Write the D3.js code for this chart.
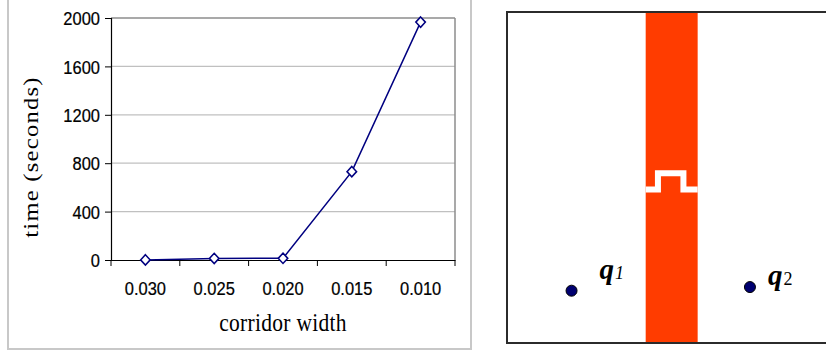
<!DOCTYPE html>
<html>
<head>
<meta charset="utf-8">
<script src="https://cdn.jsdelivr.net/npm/d3@7"></script>
<style>
  html, body { margin: 0; padding: 0; background: #fff; }
  svg { display: block; }
</style>
</head>
<body>
<svg id="fig" width="826" height="351"></svg>
<script>
// Run time against corridor width
const categories = ["0.030", "0.025", "0.020", "0.015", "0.010"];
const timeSeconds = [1, 13, 14, 730, 1966];
const yTicks = [0, 400, 800, 1200, 1600, 2000];

// Workspace scene (unit square): corridor and the two query points
const corridorX = [0.419, 0.576];
const notchPath = [[0.419, 0.464], [0.456, 0.464], [0.456, 0.513], [0.533, 0.513], [0.533, 0.464], [0.576, 0.464]];
const queryPoints = [
  { name: "q", sub: "1", x: 0.195, y: 0.158 },
  { name: "q", sub: "2", x: 0.734, y: 0.169 }
];

const svg = d3.select("#fig");
const SANS = "'Liberation Sans', Arial, sans-serif";
const SERIF = "'Liberation Serif', 'Times New Roman', serif";
const stretch = 1.12; // glyphs in the chart are slightly tall

// ---------- left panel: line chart ----------
const frame = { x0: 8, y0: -4, x1: 471, y1: 349 };
svg.append("rect")
  .attr("x", frame.x0).attr("y", frame.y0)
  .attr("width", frame.x1 - frame.x0).attr("height", frame.y1 - frame.y0)
  .attr("fill", "#fff").attr("stroke", "#c8c8c8").attr("stroke-width", 2);

const plot = { left: 111, right: 455, top: 18, bottom: 260 };

const x = d3.scaleBand().domain(categories).range([plot.left, plot.right]);
const y = d3.scaleLinear().domain([0, 2000]).range([plot.bottom, plot.top]);

const g = svg.append("g");

// horizontal gridlines
g.append("g").selectAll("line")
  .data(yTicks.filter(d => d > 0))
  .join("line")
  .attr("x1", plot.left).attr("x2", plot.right)
  .attr("y1", d => y(d)).attr("y2", d => y(d))
  .attr("stroke", d => d === 2000 ? "#8c8c8c" : "#c0c0c0")
  .attr("stroke-width", d => d === 2000 ? 1.5 : 1.2);

// right plot edge
g.append("line")
  .attr("x1", plot.right).attr("x2", plot.right)
  .attr("y1", plot.top).attr("y2", plot.bottom)
  .attr("stroke", "#8c8c8c").attr("stroke-width", 1.5);

// y axis
const yAxis = g.append("g")
  .attr("transform", `translate(${plot.left},0)`)
  .call(d3.axisLeft(y).tickValues(yTicks).tickSize(6).tickPadding(5).tickFormat(d3.format("d")));
yAxis.select(".domain").attr("stroke", "#000").attr("stroke-width", 1.2);
yAxis.selectAll(".tick line").attr("stroke", "#000");
yAxis.selectAll("text")
  .attr("font-family", SANS).attr("font-size", 16.5).attr("fill", "#000")
  .attr("stroke", "#000").attr("stroke-width", 0.2)
  .attr("dy", "0.36em")
  .attr("transform", `scale(1,${stretch})`);

// x axis with ticks on category boundaries
const xAxis = g.append("g")
  .attr("transform", `translate(0,${plot.bottom})`)
  .call(d3.axisBottom(x).tickSize(0).tickPadding(0));
xAxis.select(".domain").attr("stroke", "#000").attr("stroke-width", 1.2);
xAxis.selectAll("text")
  .attr("font-family", SANS).attr("font-size", 16.5).attr("fill", "#000")
  .attr("stroke", "#000").attr("stroke-width", 0.2)
  .attr("y", 0).attr("dy", 0)
  .attr("transform", `translate(0,35) scale(1,${stretch})`);
xAxis.append("g").selectAll("line")
  .data(categories.map(c => x(c)).concat([plot.right]))
  .join("line")
  .attr("x1", d => d).attr("x2", d => d)
  .attr("y1", 0).attr("y2", 6)
  .attr("stroke", "#000");

// series line
const cx = d => x(d) + x.bandwidth() / 2;
const pts = categories.map((c, i) => [cx(c), y(timeSeconds[i])]);
g.append("path")
  .attr("d", d3.line()(pts))
  .attr("fill", "none").attr("stroke", "#000080").attr("stroke-width", 1.5);

// diamond markers
const diamond = d3.symbol().type(d3.symbolDiamond2).size(58);
g.append("g").selectAll("path")
  .data(pts)
  .join("path")
  .attr("transform", d => `translate(${d[0]},${d[1]}) scale(1,1.08)`)
  .attr("d", diamond)
  .attr("fill", "#fff").attr("stroke", "#000080").attr("stroke-width", 1.5);

// axis titles
svg.append("text")
  .attr("transform", `translate(${(plot.left + plot.right) / 2},331) scale(1,1.18)`)
  .attr("text-anchor", "middle")
  .attr("font-family", SERIF)
  .attr("font-size", 21.5).attr("letter-spacing", 0.3)
  .text("corridor width");

svg.append("text")
  .attr("transform", `translate(38,${(plot.top + plot.bottom) / 2 + 18}) rotate(-90) scale(1.12,1)`)
  .attr("text-anchor", "middle")
  .attr("font-family", SERIF)
  .attr("font-size", 22).attr("letter-spacing", 1.1)
  .text("time (seconds)");

// ---------- right panel: workspace ----------
const ws = { left: 507, top: 12, size: 331 };
const wx = d3.scaleLinear().domain([0, 1]).range([ws.left, ws.left + ws.size]);
const wy = d3.scaleLinear().domain([0, 1]).range([ws.top + ws.size, ws.top]);

svg.append("rect")
  .attr("x", wx(0)).attr("y", wy(1))
  .attr("width", wx(1) - wx(0)).attr("height", wy(0) - wy(1))
  .attr("fill", "#fff");

svg.append("rect")
  .attr("x", wx(corridorX[0])).attr("y", wy(1))
  .attr("width", wx(corridorX[1]) - wx(corridorX[0]))
  .attr("height", wy(0) - wy(1))
  .attr("fill", "#ff3c00");

svg.append("path")
  .attr("d", d3.line().x(d => wx(d[0])).y(d => wy(d[1]))(notchPath))
  .attr("fill", "none").attr("stroke", "#fff").attr("stroke-width", 6)
  .attr("stroke-linejoin", "miter");

svg.append("rect")
  .attr("x", wx(0)).attr("y", wy(1))
  .attr("width", wx(1) - wx(0)).attr("height", wy(0) - wy(1))
  .attr("fill", "none").attr("stroke", "#2b2b2b").attr("stroke-width", 2);

const qp = svg.append("g").selectAll("g").data(queryPoints).join("g");
qp.append("circle")
  .attr("cx", d => wx(d.x)).attr("cy", d => wy(d.y))
  .attr("r", 5.5)
  .attr("fill", "#000070").attr("stroke", "#000").attr("stroke-width", 1);

const lbl = qp.append("text")
  .attr("x", (d, i) => wx(d.x) + (i === 0 ? 28 : 18))
  .attr("y", (d, i) => wy(d.y) - (i === 0 ? 12 : 2))
  .attr("font-family", SERIF)
  .attr("fill", "#000");
lbl.append("tspan")
  .attr("font-size", 29).attr("font-weight", "bold").attr("font-style", "italic")
  .text(d => d.name);
lbl.append("tspan")
  .attr("font-size", 18)
  .attr("font-style", (d, i) => i === 0 ? "italic" : "normal")
  .attr("dx", 1)
  .text(d => d.sub);
</script>
</body>
</html>
